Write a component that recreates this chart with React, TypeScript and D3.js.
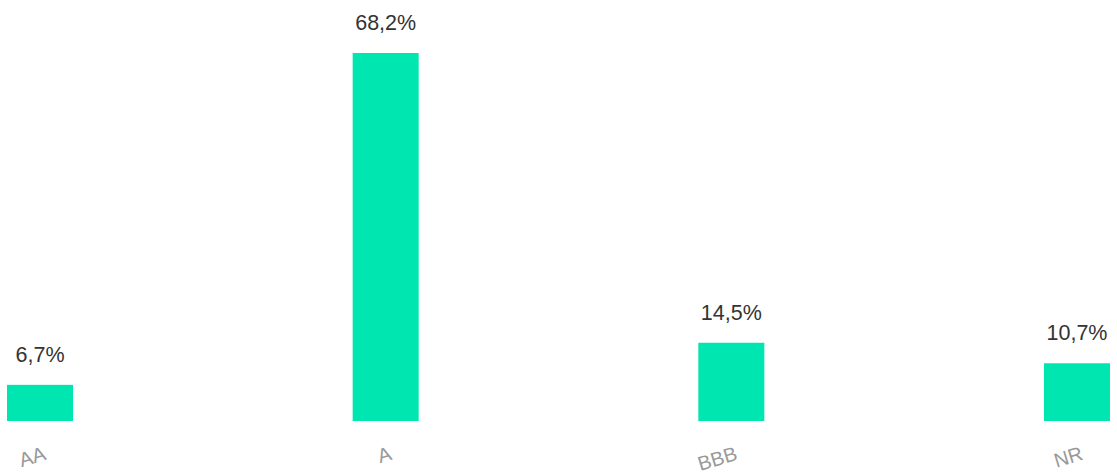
import React from "react";
import * as d3 from "d3";

const categories = ["AA", "A", "BBB", "NR"];
const values = [6.7, 68.2, 14.5, 10.7];
const valueLabels = ["6,7%", "68,2%", "14,5%", "10,7%"];

export default function App() {
  const W = 1117, H = 473;
  const x = d3.scaleBand<string>().domain(categories).range([7, 1110]).paddingInner(0.809).paddingOuter(0);
  const y = d3.scaleLinear().domain([0, 68.2]).range([421, 53]);
  const font = "'Liberation Sans', Arial, sans-serif";
  return (
    <svg width={W} height={H} style={{ position: "absolute", left: 0, top: 0 }} fontFamily={font}>
      {categories.map((c, i) => {
        const bx = x(c)!;
        const cx = bx + x.bandwidth() / 2;
        return (
          <g key={c}>
            <rect x={bx} y={y(values[i])} width={x.bandwidth()} height={y(0) - y(values[i])} fill="#00E6B0" />
            <text x={cx} y={y(values[i]) - 23} textAnchor="middle" fontSize={21.5} fill="#333">{valueLabels[i]}</text>
            <text transform={`translate(${cx + 3},${446}) rotate(-17)`} textAnchor="end" fontSize={20} fill="#999" dy="0.7em">{c}</text>
          </g>
        );
      })}
    </svg>
  );
}
